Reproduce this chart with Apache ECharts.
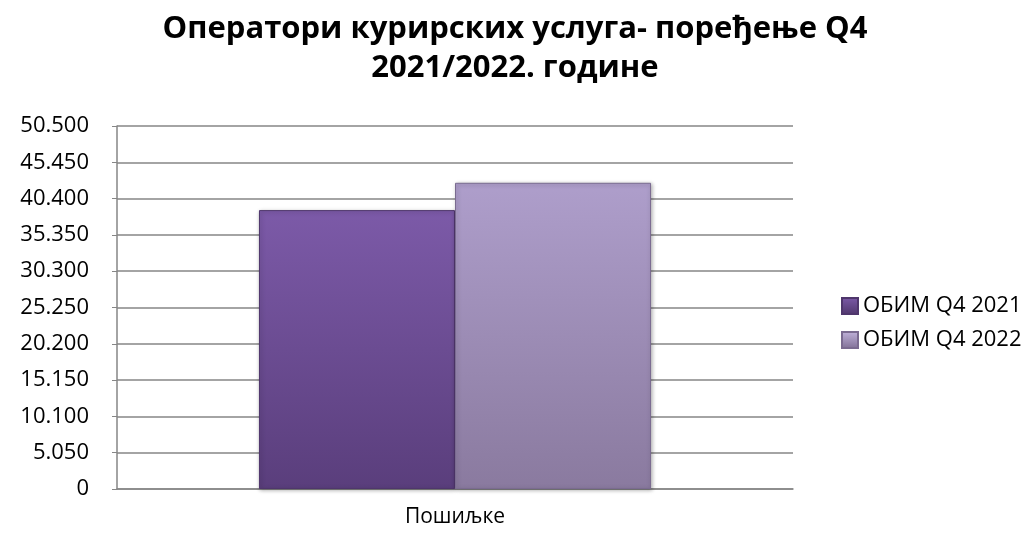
<!DOCTYPE html>
<html><head><meta charset="utf-8">
<script src="https://cdn.jsdelivr.net/npm/echarts@6/dist/echarts.min.js"></script>
<style>html,body{margin:0;padding:0;background:#fff}#c{width:1030px;height:535px}</style>
</head><body><div id="c"></div>
<script>
var titleText = 'Оператори курирских услуга- поређење Q4\n2021/2022. године';
var categories = ['Пошиљке'];
var seriesNames = ['ОБИМ Q4 2021', 'ОБИМ Q4 2022'];
var values2021 = [38800];
var values2022 = [42600];
var yMax = 50500, yStep = 5050;

function fmt(v){ return String(v).replace(/\B(?=(\d{3})+(?!\d))/g, '.'); }
function grad(top, bottom){ return new echarts.graphic.LinearGradient(0,0,0,1,[{offset:0,color:top},{offset:1,color:bottom}]); }
var font = '"Open Sans", "Noto Sans", sans-serif';
var chart = echarts.init(document.getElementById('c'));
chart.setOption({
  animation:false,
  title:{text:titleText,left:'center',top:5,textStyle:{fontFamily:font,fontSize:31,fontWeight:'bold',color:'#000',lineHeight:39}},
  legend:{orient:'vertical',left:836,top:290,itemWidth:16,itemHeight:16,itemGap:12,icon:'rect',
    textStyle:{fontFamily:font,fontSize:22,color:'#000'},
    data:[{name:seriesNames[0],itemStyle:{color:grad('#7c5aa8','#4f366c')}},
          {name:seriesNames[1],itemStyle:{color:grad('#c2b4dc','#7f6f95')}}]},
  grid:{left:117,right:237,top:126,bottom:46},
  xAxis:{type:'category',data:categories,axisTick:{show:false},
    axisLine:{lineStyle:{color:'#868686',width:1.5}},
    axisLabel:{fontFamily:font,fontSize:21,color:'#000',margin:18}},
  yAxis:{type:'value',min:0,max:yMax,interval:yStep,
    axisLine:{show:true,lineStyle:{color:'#868686',width:1.5}},
    axisTick:{show:true,length:5,lineStyle:{color:'#868686'}},
    splitLine:{lineStyle:{color:'#868686',width:1.5}},
    axisLabel:{fontFamily:font,fontSize:22,color:'#000',margin:28,formatter:fmt}},
  series:[
    {name:seriesNames[0],type:'bar',data:values2021,barGap:'0%',barCategoryGap:'42%',
     itemStyle:{color:grad('#7c5aa8','#5a3e7c'),borderColor:'#4f366c',borderWidth:1,
       shadowColor:'rgba(0,0,0,0.3)',shadowBlur:4,shadowOffsetX:1,shadowOffsetY:1}},
    {name:seriesNames[1],type:'bar',data:values2022,
     itemStyle:{color:grad('#ae9ecb','#8a7a9f'),borderColor:'#7a6b90',borderWidth:1,
       shadowColor:'rgba(0,0,0,0.3)',shadowBlur:4,shadowOffsetX:1,shadowOffsetY:1}}
  ]
});
</script></body></html>
